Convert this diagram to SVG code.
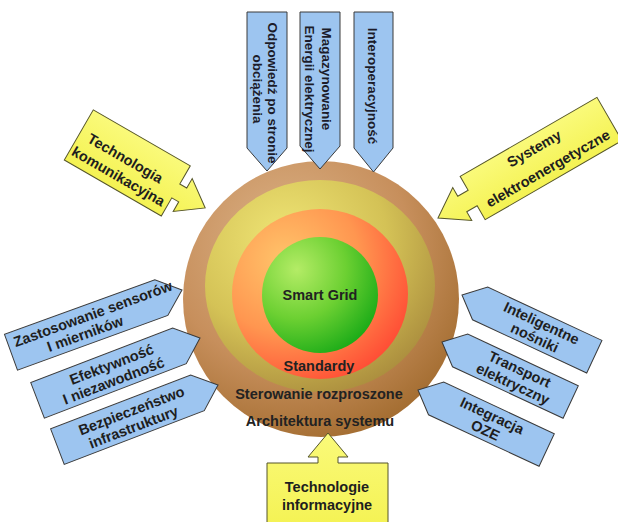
<svg xmlns="http://www.w3.org/2000/svg" width="618" height="522" viewBox="0 0 618 522">
  <defs>
    <radialGradient id="gBrown" cx="0.38" cy="0.3" r="0.8">
      <stop offset="0" stop-color="#dcb489"/>
      <stop offset="0.55" stop-color="#c78f5c"/>
      <stop offset="1" stop-color="#9c6628"/>
    </radialGradient>
    <radialGradient id="gOlive" cx="0.35" cy="0.28" r="0.8">
      <stop offset="0" stop-color="#efe575"/>
      <stop offset="0.55" stop-color="#d4c256"/>
      <stop offset="1" stop-color="#a88a3c"/>
    </radialGradient>
    <radialGradient id="gOrange" cx="0.3" cy="0.3" r="0.85">
      <stop offset="0" stop-color="#ffc46a"/>
      <stop offset="0.5" stop-color="#ff9650"/>
      <stop offset="1" stop-color="#ff4030"/>
    </radialGradient>
    <radialGradient id="gGreen" cx="0.3" cy="0.28" r="0.85">
      <stop offset="0" stop-color="#b4ec66"/>
      <stop offset="0.5" stop-color="#6cd032"/>
      <stop offset="1" stop-color="#10a614"/>
    </radialGradient>
    <linearGradient id="gYellow" x1="0" y1="0" x2="0" y2="1">
      <stop offset="0" stop-color="#fafa7a"/>
      <stop offset="1" stop-color="#f4f252"/>
    </linearGradient>
  </defs>
  <style>
    .blue { fill: #9dc5f0; stroke: #3a3a3a; stroke-width: 1; stroke-linejoin: miter; }
    .yel { fill: url(#gYellow); stroke: #55552a; stroke-width: 1; }
    .lbl { font-family: "Liberation Sans", Arial, sans-serif; font-weight: bold; font-size: 13.5px; fill: #1c1c2a; text-anchor: middle; }
    .big { font-size: 14.5px; fill: #1e1e1e; }
    .core { font-family: "Liberation Sans", Arial, sans-serif; font-weight: bold; font-size: 14.5px; fill: #222; text-anchor: middle; }
  </style>
  <rect width="618" height="522" fill="#ffffff"/>

  <!-- concentric layers -->
  <g id="layers">
    <circle cx="321" cy="299" r="138" fill="url(#gBrown)"/>
    <ellipse cx="320" cy="286" rx="115" ry="106" fill="url(#gOlive)"/>
    <ellipse cx="320" cy="294" rx="88" ry="85" fill="url(#gOrange)"/>
    <circle cx="320" cy="295" r="58" fill="url(#gGreen)"/>
    <text class="core" x="320" y="300">Smart Grid</text>
    <text class="core" x="319" y="371">Standardy</text>
    <text class="core" x="319" y="399">Sterowanie rozproszone</text>
    <text class="core" x="320" y="426">Architektura systemu</text>
  </g>

  <g id="connectors">
    <!-- top: downward arrows -->
    <g id="n-odpowiedz">
      <polygon class="blue" points="247,12 287,12 287,148 267,171 247,148"/>
      <text class="lbl" transform="translate(268,93) rotate(90)">Odpowiedź po stronie</text>
      <text class="lbl" transform="translate(253,89) rotate(90)">obciążenia</text>
    </g>
    <g id="n-magazynowanie">
      <polygon class="blue" points="300,12 340,12 340,146 320,169 300,146"/>
      <text class="lbl" transform="translate(322,79) rotate(90)">Magazynowanie</text>
      <text class="lbl" transform="translate(305,89) rotate(90)">Energii elektrycznej</text>
    </g>
    <g id="n-interoperacyjnosc">
      <polygon class="blue" points="354,12 393,12 393,148 373.5,172 354,148"/>
      <text class="lbl" transform="translate(368,86) rotate(90)">Interoperacyjność</text>
    </g>

    <!-- yellow block arrows -->
    <g id="n-tech-kom" transform="translate(200,213) rotate(30)">
      <polygon class="yel" points="2,-7 -24,-26 -24,-15 -32,-15 -32,-36 -144,-36 -144,22 -32,22 -32,1 -24,1 -24,12"/>
      <text class="lbl big" x="-92" y="-5">Technologia</text>
      <text class="lbl big" x="-89" y="14">komunikacyjna</text>
    </g>
    <g id="n-systemy" transform="translate(438,218) rotate(-30)">
      <polygon class="yel" points="0,0 28,-19 28,-9 40,-9 40,-25 198,-25 198,25 40,25 40,9 28,9 28,19"/>
      <text class="lbl big" x="118" y="-7">Systemy</text>
      <text class="lbl big" x="120" y="17">elektroenergetyczne</text>
    </g>
    <g id="n-tech-inf">
      <polygon class="yel" points="328,433 348,457 338,457 338,463 388,463 388,530 267,530 267,463 318,463 318,457 308,457"/>
      <text class="lbl big" x="327" y="492">Technologie</text>
      <text class="lbl big" x="327" y="510">informacyjne</text>
    </g>

    <!-- left: arrows pointing right -->
    <g id="n-sensory" transform="translate(182,290) rotate(-20)">
      <polygon class="blue" points="0,0 -22,-19 -182,-19 -182,19 -22,19"/>
      <text class="lbl big" x="-92" y="-3">Zastosowanie sensorów</text>
      <text class="lbl big" x="-106" y="13">I mierników</text>
    </g>
    <g id="n-efektywnosc" transform="translate(200,338) rotate(-21)">
      <polygon class="blue" points="0,0 -22,-19 -174,-19 -174,19 -22,19"/>
      <text class="lbl big" x="-92" y="-2">Efektywność</text>
      <text class="lbl big" x="-96" y="14">I niezawodność</text>
    </g>
    <g id="n-bezpieczenstwo" transform="translate(218,385) rotate(-21)">
      <polygon class="blue" points="0,0 -22,-19 -172,-19 -172,19 -22,19"/>
      <text class="lbl big" x="-90" y="-2">Bezpieczeństwo</text>
      <text class="lbl big" x="-94" y="14">infrastruktury</text>
    </g>

    <!-- right: arrows pointing left -->
    <g id="n-nosniki" transform="translate(462,295) rotate(25)">
      <polygon class="blue" points="0,0 20,-18 146,-18 146,18 20,18"/>
      <text class="lbl big" x="84" y="-3">Inteligentne</text>
      <text class="lbl big" x="84" y="13">nośniki</text>
    </g>
    <g id="n-transport" transform="translate(442,342) rotate(25)">
      <polygon class="blue" points="0,0 20,-18 142,-18 142,18 20,18"/>
      <text class="lbl big" x="82" y="-3">Transport</text>
      <text class="lbl big" x="82" y="13">elektryczny</text>
    </g>
    <g id="n-oze" transform="translate(418,390) rotate(25)">
      <polygon class="blue" points="0,0 20,-18 142,-18 142,18 20,18"/>
      <text class="lbl big" x="78" y="-3">Integracja</text>
      <text class="lbl big" x="78" y="13">OZE</text>
    </g>
  </g>
</svg>
